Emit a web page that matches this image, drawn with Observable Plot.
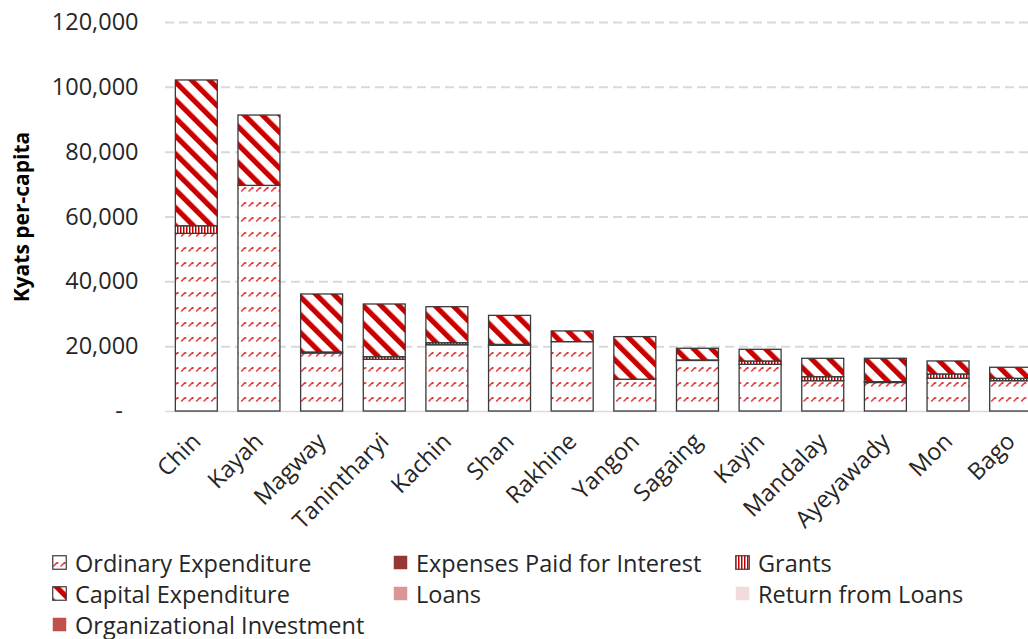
<!DOCTYPE html>
<html>
<head>
<meta charset="utf-8">
<script src="https://cdn.jsdelivr.net/npm/d3@7"></script>
<script src="https://cdn.jsdelivr.net/npm/@observablehq/plot@0.6"></script>
<style>
  html, body { margin: 0; padding: 0; background: #fff; overflow: hidden; width: 1028px; height: 639px; }
  #chart svg { display: block; max-width: none; }
  g[aria-label="y-axis label"] text { font-weight: bold; font-size: 21px; fill: #000; }
  #legend { font-family: "Open Sans", sans-serif; font-size: 23.5px; color: #262626;
    display: grid; grid-template-columns: 341px 342px 300px; grid-auto-rows: 31px;
    padding-left: 52px; margin-top: 7px; }
  #legend .item { display: flex; align-items: center; white-space: nowrap; }
  #legend svg { margin-right: 8px; flex: none; }
</style>
</head>
<body>
<svg width="0" height="0" style="position:absolute">
  <defs>
    <pattern id="patOrd" patternUnits="userSpaceOnUse" width="7.5" height="15">
      <rect width="7.5" height="15" fill="white"/>
      <path d="M1.2,11.5 L4.8,7.8" stroke="#e3262b" stroke-width="1.4"/>
      <rect x="4.6" y="7.2" width="1.5" height="1.5" fill="#c00000"/>
    </pattern>
    <pattern id="patCap" patternUnits="userSpaceOnUse" width="12.7" height="12.7" patternTransform="rotate(-45)">
      <rect width="12.7" height="12.7" fill="white"/>
      <rect width="5.2" height="12.7" fill="#c80000"/>
    </pattern>
    <pattern id="patGr" patternUnits="userSpaceOnUse" width="3" height="3">
      <rect width="3" height="3" fill="white"/>
      <rect width="1.5" height="3" fill="#c00000"/>
    </pattern>
  </defs>
</svg>
<div id="chart"></div>
<div id="legend"></div>
<script>
// ---- data ----
const regions = ["Chin","Kayah","Magway","Tanintharyi","Kachin","Shan","Rakhine","Yangon","Sagaing","Kayin","Mandalay","Ayeyawady","Mon","Bago"];
const ordinary   = [54800, 69600, 17900, 15950, 20450, 20300, 21400, 9800, 15600, 14400, 9350, 8800, 10100, 9350];
const interest   = [0, 0, 300, 0, 0, 250, 0, 0, 150, 0, 0, 250, 0, 0];
const grants     = [2350, 0, 0, 800, 620, 0, 0, 0, 0, 1030, 1240, 0, 1330, 740];
const capital    = [44970, 21700, 17900, 16260, 11110, 8950, 3300, 13150, 3600, 3600, 5670, 7220, 4010, 3400];
const loans      = [0,0,0,0,0,0,0,0,0,0,0,0,0,0];
const returnLoans= [0,0,0,0,0,0,0,0,0,0,0,0,0,0];
const orgInvest  = [0,0,0,0,0,0,0,0,0,0,0,0,0,0];
const yTicks = [0, 20000, 40000, 60000, 80000, 100000, 120000];

const seriesNames = ["Ordinary Expenditure","Expenses Paid for Interest","Grants","Capital Expenditure","Loans","Return from Loans","Organizational Investment"];
const seriesValues = [ordinary, interest, grants, capital, loans, returnLoans, orgInvest];
const seriesFills = ["url(#patOrd)","#953735","url(#patGr)","url(#patCap)","#d99694","#f2dcdb","#c0504d"];

const long = [];
regions.forEach((r, i) => {
  seriesNames.forEach((s, k) => {
    const v = seriesValues[k][i];
    if (v > 0) long.push({region: r, series: s, value: v});
  });
});

const fmt = d3.format(",");
const chart = Plot.plot({
  width: 1042,
  height: 540,
  marginLeft: 165,
  marginRight: 0,
  marginTop: 22,
  marginBottom: 129,
  style: {fontFamily: "'Open Sans', sans-serif", fontSize: "23.5px", color: "#262626", background: "white"},
  x: {domain: regions, paddingInner: 0.33, paddingOuter: 0.165, round: false, label: null},
  y: {domain: [0, 120000], label: null},
  color: {domain: seriesNames, range: seriesFills},
  marks: [
    Plot.ruleY(yTicks.filter(d => d > 0), {stroke: "#d9d9d9", strokeWidth: 2, strokeDasharray: "9,5"}),
    Plot.ruleY([0], {stroke: "#d9d9d9", strokeWidth: 1.5}),
    Plot.barY(long, {x: "region", y: "value", fill: "series", stroke: "#3a3a3a", strokeWidth: 1.3}),
    Plot.axisX({tickRotate: -45, tickSize: 0, tickPadding: 26, label: null}),
    Plot.axisY({ticks: yTicks, tickSize: 0, tickPadding: 27,
      tickFormat: d => d === 0 ? "-\u2002\u2009" : fmt(d),
      label: "Kyats per-capita", labelAnchor: "center", labelOffset: 151, labelArrow: "none"})
  ]
});
document.getElementById("chart").appendChild(chart);

// ---- legend ----
const legend = document.getElementById("legend");
seriesNames.forEach((name, k) => {
  const fill = seriesFills[k];
  const patterned = fill.startsWith("url");
  const item = document.createElement("div");
  item.className = "item";
  item.innerHTML = `<svg width="15" height="15"><rect x="0.75" y="0.75" width="13.5" height="13.5" fill="${fill}" stroke="${patterned ? "#3a3a3a" : "none"}" stroke-width="1.2"/></svg><span>${name}</span>`;
  legend.appendChild(item);
});
</script>
</body>
</html>
